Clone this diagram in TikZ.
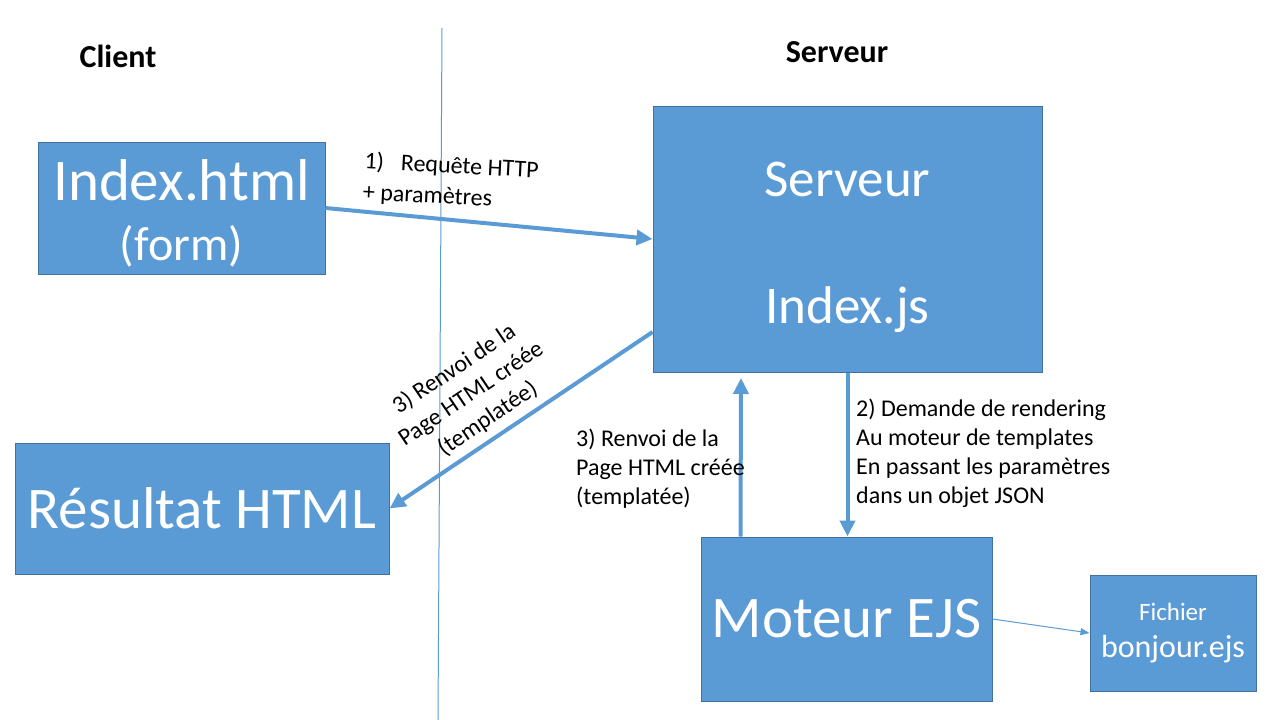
\documentclass[tikz,border=0pt]{standalone}
\usepackage{fontspec}
\setmainfont{Carlito}
\usetikzlibrary{arrows.meta}
\definecolor{boxblue}{HTML}{5B9BD5}
\definecolor{boxedge}{HTML}{41719C}

\begin{document}
\begin{tikzpicture}[x=1pt,y=-1pt]
\tikzstyle{every node}=[inner sep=0pt]
\tikzstyle{box}=[draw=boxedge, fill=boxblue, line width=1pt, text=white, align=center]
\tikzstyle{flow}=[draw=boxblue, line width=4pt, -{Triangle[length=16pt,width=15pt]}]
\tikzstyle{lbl}=[font=\fontsize{24}{29}\selectfont, align=left]
\tikzstyle{head}=[font=\fontsize{32}{36}\selectfont\bfseries]
\useasboundingbox (0,0) rectangle (1280,720);
\node (client) [head] at (118,56) {Client};
\node (server) [head] at (837,52) {Serveur};
\coordinate (top) at (442,28);
\coordinate (bot) at (438,720);
\draw [boxblue, line width=1pt] (top) -- (bot);
\node (idx) [box, minimum width=287pt, minimum height=132pt, font=\fontsize{59}{60}\selectfont] at (181.5,208)
  {\rule{0pt}{52pt}Index.html\\{\fontsize{48}{60}\selectfont (form)}};
\node (srv) [box, minimum width=389pt, minimum height=266pt, font=\fontsize{53}{60}\selectfont] at (847.5,239)
  {\rule{0pt}{52pt}Serveur\\[67pt]Index.js};
\node (res) [box, minimum width=374pt, minimum height=131pt, font=\fontsize{59}{60}\selectfont] at (202,508.5)
  {Résultat HTML};
\node (ejs) [box, minimum width=291pt, minimum height=164pt, font=\fontsize{59}{60}\selectfont] at (846.5,619)
  {Moteur EJS};
\node (fic) [box, minimum width=166pt, minimum height=116pt, font=\fontsize{25}{37}\selectfont] at (1173,633)
  {Fichier\\{\fontsize{32}{37}\selectfont bonjour.ejs}};
\coordinate (ret) at (741,378);
\draw [flow] (idx.east) -- (srv.west);
\draw [flow] (srv.south) -- (srv.south |- ejs.north);
\draw [flow] ([xshift=40pt]ejs.north west) -- (ret);
\draw [flow] ([yshift=-93pt]srv.west) -- (res.east);
\draw [boxblue, line width=1pt, -{Triangle[length=9pt,width=7pt]}] (ejs.east) -- (fic.west);
\node (l1) [lbl, anchor=north west, rotate=-3, font=\fontsize{24}{31}\selectfont] at (365,151)
  {1)\hspace{17pt}Requête HTTP\\+ paramètres};
\node (l2) [lbl, anchor=north west] at (856,399)
  {2) Demande de rendering\\Au moteur de templates\\En passant les paramètres\\dans un objet JSON};
\node (l3) [lbl, anchor=north west] at (576,429)
  {3) Renvoi de la\\Page HTML créée\\(templatée)};
\node (l4) [lbl, align=center, rotate=34, font=\fontsize{24}{30}\selectfont] at (471,394)
  {3) Renvoi de la\\Page HTML créée\\(templatée)};
\end{tikzpicture}
\end{document}
